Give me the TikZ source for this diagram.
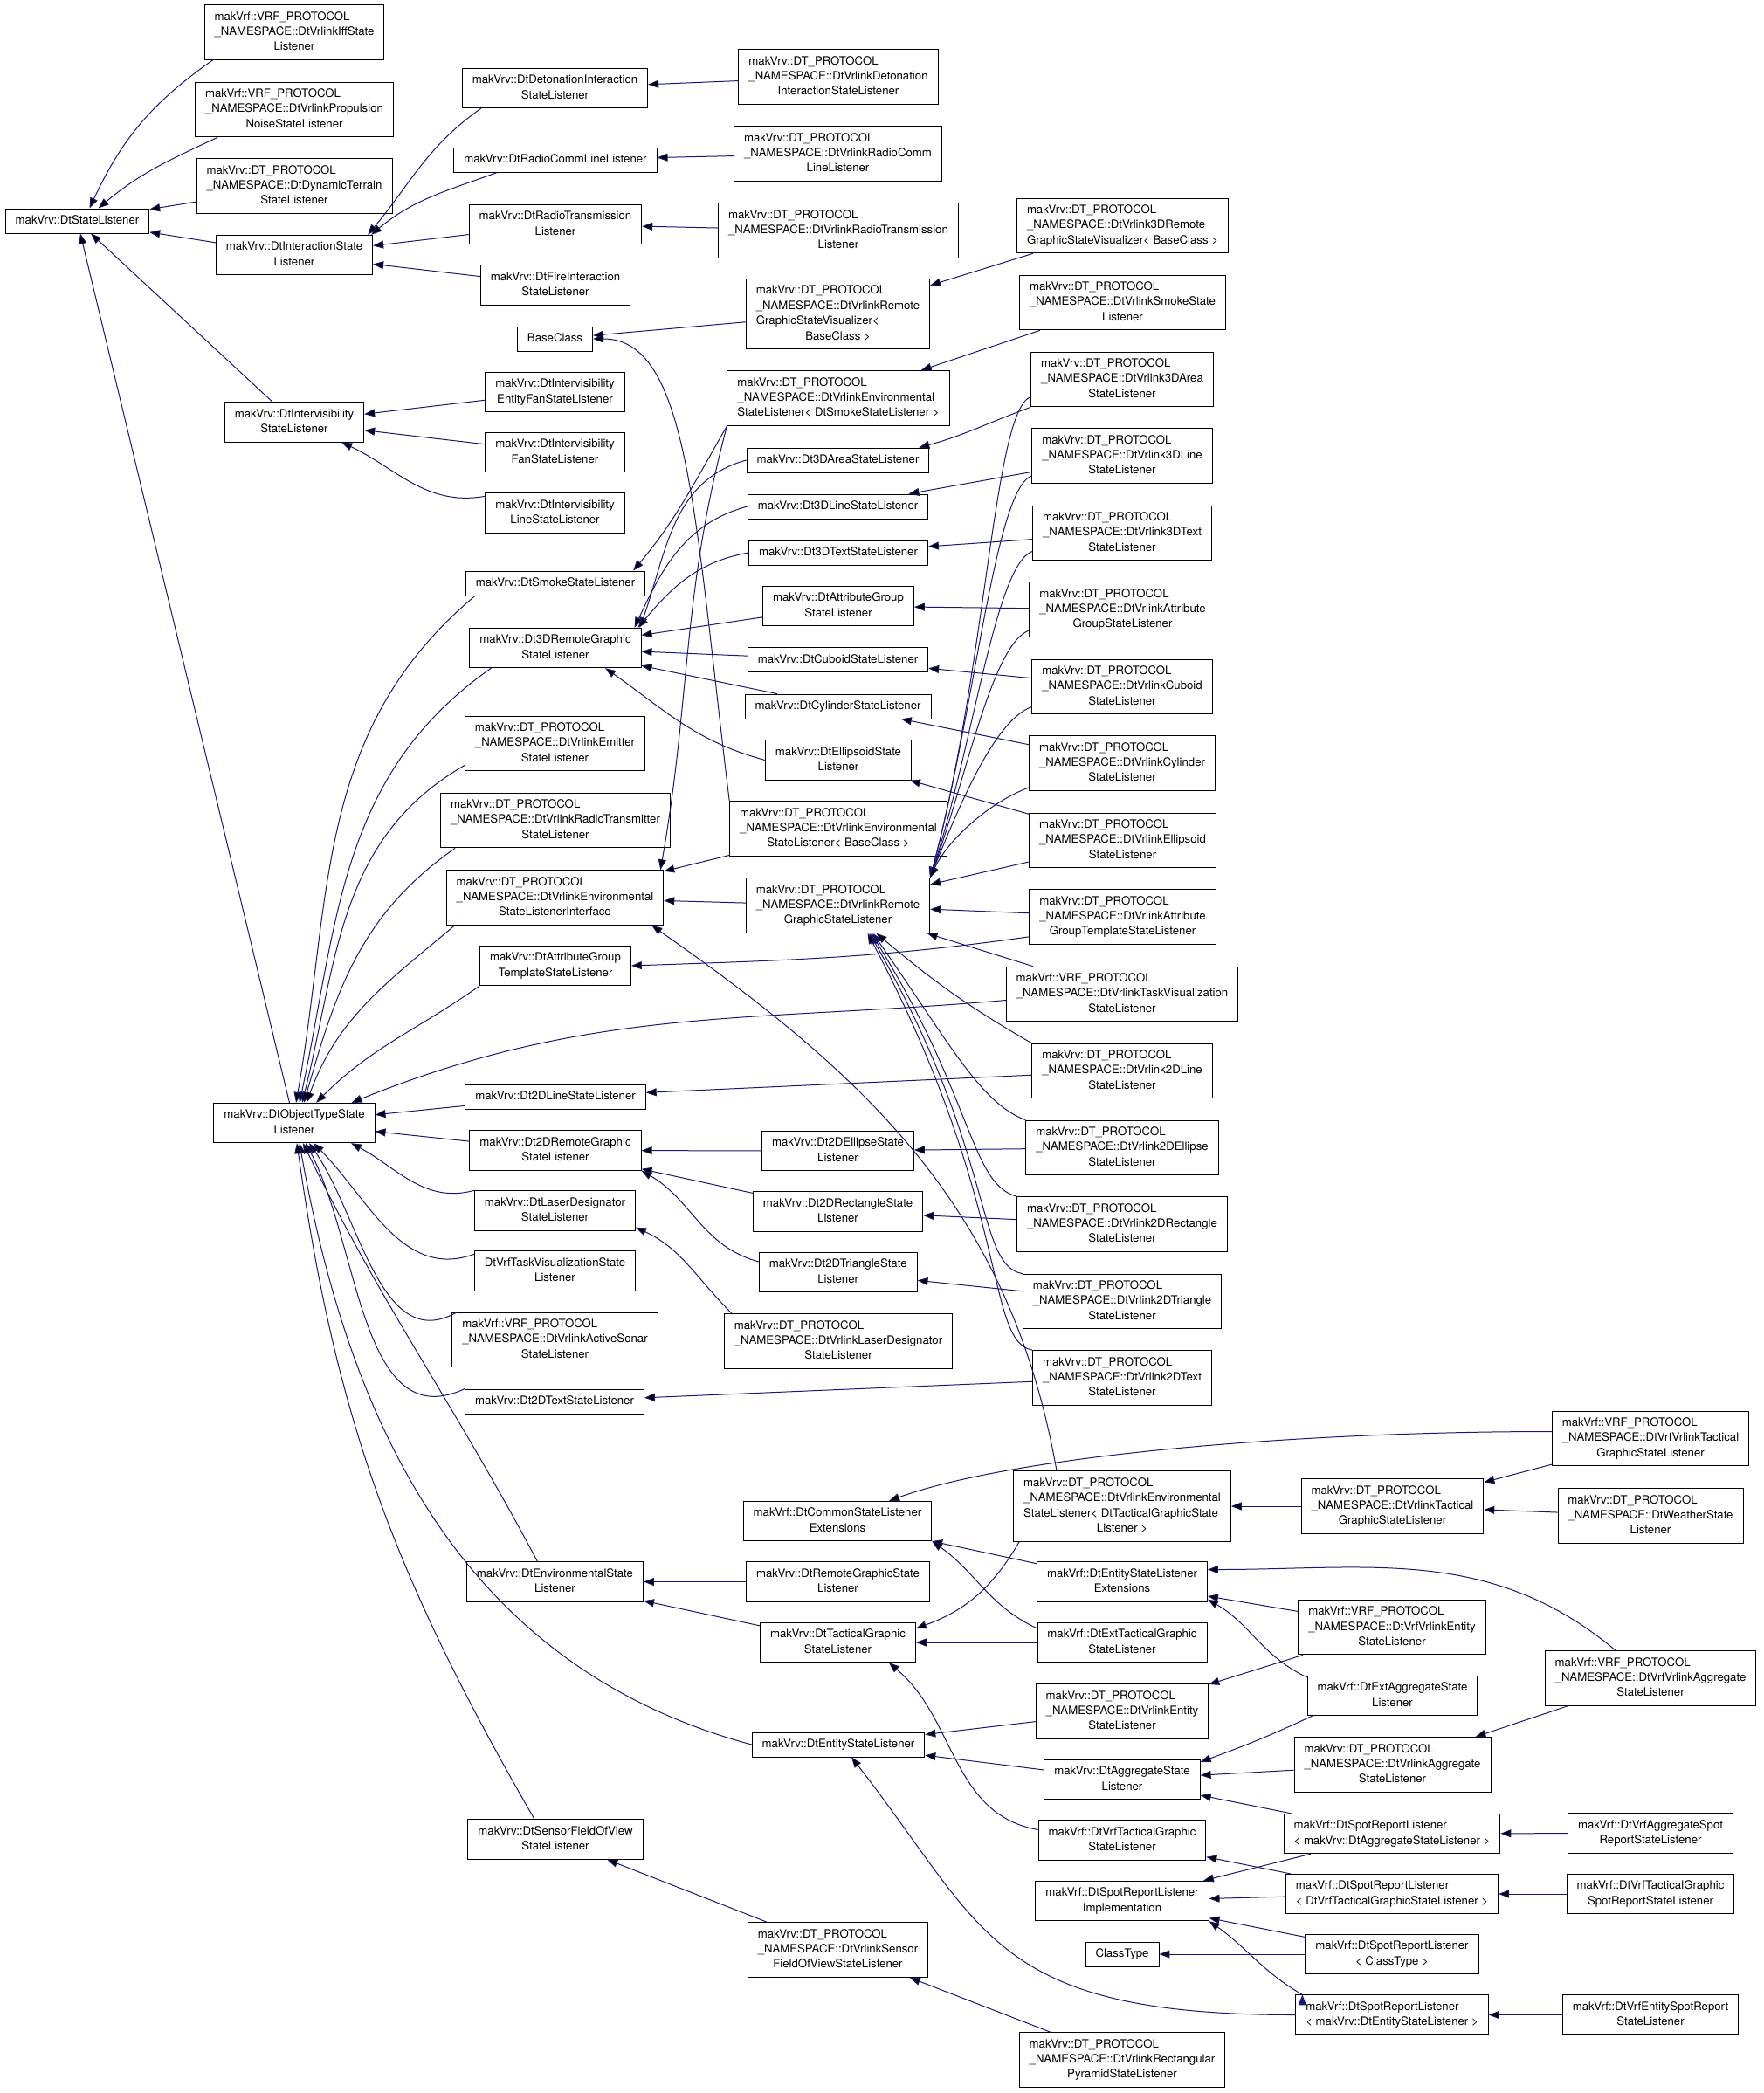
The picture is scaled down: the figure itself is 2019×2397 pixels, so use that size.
\documentclass[tikz,border=0pt]{standalone}
\usepackage{fontspec}
\setmainfont{TeX Gyre Heros}
\usetikzlibrary{arrows.meta}
\definecolor{edgeblue}{RGB}{25,25,112}
\newcommand{\cn}[2]{\begin{tabular}{@{}l@{}}#1\\\multicolumn{1}{@{}c@{}}{#2}\end{tabular}}
\tikzset{
	cls/.style={draw=black, line width=0.9pt, fill=white, inner xsep=11.5pt, inner ysep=5.3pt, font=\fontsize{13.2}{17.4}\selectfont},
	single/.style={cls, text height=12.2pt, text depth=5.2pt},
	inh/.style={draw=edgeblue, line width=1pt, -{Triangle[length=12pt,width=9pt]}},
	rise/.style={out distance=45pt, in distance=#1},
	sink/.style={out distance=55pt, in distance=#1}
}
\begin{document}
\begin{tikzpicture}[x=1pt,y=1pt]
		\useasboundingbox (0,0) rectangle (2019,-2397);
		\node[single] (state) at (88.5,-253) {makVrv::DtStateListener};
		\node[cls] (iff) at (337,-37) {\cn{makVrf::VRF\_PROTOCOL\\\_NAMESPACE::DtVrlinkIffState}{Listener}};
		\node[cls] (propnoise) at (337,-125.5) {\cn{makVrf::VRF\_PROTOCOL\\\_NAMESPACE::DtVrlinkPropulsion}{NoiseStateListener}};
		\node[cls] (dynterr) at (337,-213) {\cn{makVrv::DT\_PROTOCOL\\\_NAMESPACE::DtDynamicTerrain}{StateListener}};
		\node[cls] (interact) at (337,-292) {\cn{makVrv::DtInteractionState}{Listener}};
		\node[cls] (intervis) at (337,-483.5) {\cn{makVrv::DtIntervisibility}{StateListener}};
		\node[cls] (objtype) at (337,-1286) {\cn{makVrv::DtObjectTypeState}{Listener}};
		\node[cls] (deton) at (635.5,-101) {\cn{makVrv::DtDetonationInteraction}{StateListener}};
		\node[single] (radiocomm) at (636,-183) {makVrv::DtRadioCommLineListener};
		\node[cls] (radiotrans) at (636,-257) {\cn{makVrv::DtRadioTransmission}{Listener}};
		\node[cls] (fire) at (636,-326.5) {\cn{makVrv::DtFireInteraction}{StateListener}};
		\node[single] (baseclass) at (635.5,-388) {BaseClass};
		\node[cls] (ivefan) at (635.5,-449) {\cn{makVrv::DtIntervisibility}{EntityFanStateListener}};
		\node[cls] (ivfan) at (635.5,-518) {\cn{makVrv::DtIntervisibility}{FanStateListener}};
		\node[cls] (ivline) at (635.5,-587.5) {\cn{makVrv::DtIntervisibility}{LineStateListener}};
		\node[single] (smoke) at (636,-668) {makVrv::DtSmokeStateListener};
		\node[cls] (remote3d) at (636,-742) {\cn{makVrv::Dt3DRemoteGraphic}{StateListener}};
		\node[cls] (emitter) at (635.5,-851.5) {\cn{makVrv::DT\_PROTOCOL\\\_NAMESPACE::DtVrlinkEmitter}{StateListener}};
		\node[cls] (radiotx) at (636,-939.5) {\cn{makVrv::DT\_PROTOCOL\\\_NAMESPACE::DtVrlinkRadioTransmitter}{StateListener}};
		\node[cls] (envif) at (635.5,-1028) {\cn{makVrv::DT\_PROTOCOL\\\_NAMESPACE::DtVrlinkEnvironmental}{StateListenerInterface}};
		\node[cls] (attrtmpl) at (636,-1106) {\cn{makVrv::DtAttributeGroup}{TemplateStateListener}};
		\node[single] (line2d) at (636,-1256) {makVrv::Dt2DLineStateListener};
		\node[cls] (remote2d) at (636,-1317.5) {\cn{makVrv::Dt2DRemoteGraphic}{StateListener}};
		\node[cls] (laser) at (635.5,-1386.5) {\cn{makVrv::DtLaserDesignator}{StateListener}};
		\node[cls] (vrftask) at (635.5,-1455.5) {\cn{DtVrfTaskVisualizationState}{Listener}};
		\node[cls] (sonar) at (635.5,-1534.5) {\cn{makVrf::VRF\_PROTOCOL\\\_NAMESPACE::DtVrlinkActiveSonar}{StateListener}};
		\node[single] (text2d) at (635,-1605) {makVrv::Dt2DTextStateListener};
		\node[cls] (environ) at (635.5,-1811.5) {\cn{makVrv::DtEnvironmentalState}{Listener}};
		\node[cls] (sensor) at (636,-2106.5) {\cn{makVrv::DtSensorFieldOfView}{StateListener}};
		\node[cls] (vldeton) at (960,-88) {\cn{makVrv::DT\_PROTOCOL\\\_NAMESPACE::DtVrlinkDetonation}{InteractionStateListener}};
		\node[cls] (vlradiocomm) at (959.5,-176) {\cn{makVrv::DT\_PROTOCOL\\\_NAMESPACE::DtVrlinkRadioComm}{LineListener}};
		\node[cls] (vlradiotrans) at (960,-264) {\cn{makVrv::DT\_PROTOCOL\\\_NAMESPACE::DtVrlinkRadioTransmission}{Listener}};
		\node[cls] (vlvisual) at (959.5,-359.5) {\cn{makVrv::DT\_PROTOCOL\\\_NAMESPACE::DtVrlinkRemote\\GraphicStateVisualizer<}{BaseClass >}};
		\node[cls] (vlenvsmoke) at (960,-456) {\cn{makVrv::DT\_PROTOCOL\\\_NAMESPACE::DtVrlinkEnvironmental}{StateListener< DtSmokeStateListener >}};
		\node[single] (area3d) at (959.5,-527) {makVrv::Dt3DAreaStateListener};
		\node[single] (line3d) at (959.5,-580) {makVrv::Dt3DLineStateListener};
		\node[single] (text3d) at (960,-633) {makVrv::Dt3DTextStateListener};
		\node[cls] (attrgrp) at (960,-694) {\cn{makVrv::DtAttributeGroup}{StateListener}};
		\node[single] (cuboid) at (959.5,-755.5) {makVrv::DtCuboidStateListener};
		\node[single] (cylinder) at (959.5,-809) {makVrv::DtCylinderStateListener};
		\node[cls] (ellipsoid) at (960,-870.5) {\cn{makVrv::DtEllipsoidState}{Listener}};
		\node[cls] (vlenvbase) at (960,-949) {\cn{makVrv::DT\_PROTOCOL\\\_NAMESPACE::DtVrlinkEnvironmental}{StateListener< BaseClass >}};
		\node[cls] (vlremote) at (959.5,-1037) {\cn{makVrv::DT\_PROTOCOL\\\_NAMESPACE::DtVrlinkRemote}{GraphicStateListener}};
		\node[cls] (ellipse2d) at (959.5,-1318) {\cn{makVrv::Dt2DEllipseState}{Listener}};
		\node[cls] (rect2d) at (959.5,-1387.5) {\cn{makVrv::Dt2DRectangleState}{Listener}};
		\node[cls] (tri2d) at (959.7,-1457) {\cn{makVrv::Dt2DTriangleState}{Listener}};
		\node[cls] (vllaser) at (960,-1536) {\cn{makVrv::DT\_PROTOCOL\\\_NAMESPACE::DtVrlinkLaserDesignator}{StateListener}};
		\node[cls] (common) at (959,-1742) {\cn{makVrf::DtCommonStateListener}{Extensions}};
		\node[cls] (remotegs) at (959.5,-1811.5) {\cn{makVrv::DtRemoteGraphicState}{Listener}};
		\node[cls] (tactical) at (959.5,-1881) {\cn{makVrv::DtTacticalGraphic}{StateListener}};
		\node[single] (entity) at (960,-1998) {makVrv::DtEntityStateListener};
		\node[cls] (vlsensor) at (959.5,-2233) {\cn{makVrv::DT\_PROTOCOL\\\_NAMESPACE::DtVrlinkSensor}{FieldOfViewStateListener}};
		\node[cls] (vl3dvisual) at (1285.5,-258.5) {\cn{makVrv::DT\_PROTOCOL\\\_NAMESPACE::DtVrlink3DRemote}{GraphicStateVisualizer< BaseClass >}};
		\node[cls] (vlsmoke) at (1285.5,-346.5) {\cn{makVrv::DT\_PROTOCOL\\\_NAMESPACE::DtVrlinkSmokeState}{Listener}};
		\node[cls] (vlarea) at (1285,-434.5) {\cn{makVrv::DT\_PROTOCOL\\\_NAMESPACE::DtVrlink3DArea}{StateListener}};
		\node[cls] (vlline3d) at (1285,-522) {\cn{makVrv::DT\_PROTOCOL\\\_NAMESPACE::DtVrlink3DLine}{StateListener}};
		\node[cls] (vltext3d) at (1285,-610.5) {\cn{makVrv::DT\_PROTOCOL\\\_NAMESPACE::DtVrlink3DText}{StateListener}};
		\node[cls] (vlattr) at (1285.5,-698) {\cn{makVrv::DT\_PROTOCOL\\\_NAMESPACE::DtVrlinkAttribute}{GroupStateListener}};
		\node[cls] (vlcuboid) at (1285,-786.5) {\cn{makVrv::DT\_PROTOCOL\\\_NAMESPACE::DtVrlinkCuboid}{StateListener}};
		\node[cls] (vlcyl) at (1285,-874) {\cn{makVrv::DT\_PROTOCOL\\\_NAMESPACE::DtVrlinkCylinder}{StateListener}};
		\node[cls] (vlellipsoid) at (1285.5,-962.5) {\cn{makVrv::DT\_PROTOCOL\\\_NAMESPACE::DtVrlinkEllipsoid}{StateListener}};
		\node[cls] (vlattrtmpl) at (1285.5,-1050) {\cn{makVrv::DT\_PROTOCOL\\\_NAMESPACE::DtVrlinkAttribute}{GroupTemplateStateListener}};
		\node[cls] (vltask) at (1285,-1138.5) {\cn{makVrf::VRF\_PROTOCOL\\\_NAMESPACE::DtVrlinkTaskVisualization}{StateListener}};
		\node[cls] (vlline2d) at (1285,-1226.5) {\cn{makVrv::DT\_PROTOCOL\\\_NAMESPACE::DtVrlink2DLine}{StateListener}};
		\node[cls] (vlellipse2d) at (1285,-1314.5) {\cn{makVrv::DT\_PROTOCOL\\\_NAMESPACE::DtVrlink2DEllipse}{StateListener}};
		\node[cls] (vlrect2d) at (1285,-1402) {\cn{makVrv::DT\_PROTOCOL\\\_NAMESPACE::DtVrlink2DRectangle}{StateListener}};
		\node[cls] (vltri2d) at (1285,-1490.5) {\cn{makVrv::DT\_PROTOCOL\\\_NAMESPACE::DtVrlink2DTriangle}{StateListener}};
		\node[cls] (vltext2d) at (1285,-1578) {\cn{makVrv::DT\_PROTOCOL\\\_NAMESPACE::DtVrlink2DText}{StateListener}};
		\node[cls] (vlenvtact) at (1285,-1725) {\cn{makVrv::DT\_PROTOCOL\\\_NAMESPACE::DtVrlinkEnvironmental\\StateListener< DtTacticalGraphicState}{Listener >}};
		\node[cls] (entityext) at (1285,-1811.5) {\cn{makVrf::DtEntityStateListener}{Extensions}};
		\node[cls] (exttact) at (1285,-1881) {\cn{makVrf::DtExtTacticalGraphic}{StateListener}};
		\node[cls] (vlentity) at (1285,-1960) {\cn{makVrv::DT\_PROTOCOL\\\_NAMESPACE::DtVrlinkEntity}{StateListener}};
		\node[cls] (aggregate) at (1285,-2038) {\cn{makVrv::DtAggregateState}{Listener}};
		\node[cls] (vrftact) at (1285,-2107.5) {\cn{makVrf::DtVrfTacticalGraphic}{StateListener}};
		\node[cls] (spotimpl) at (1285,-2177) {\cn{makVrf::DtSpotReportListener}{Implementation}};
		\node[single] (classtype) at (1285,-2238) {ClassType};
		\node[cls] (vlpyramid) at (1285,-2359) {\cn{makVrv::DT\_PROTOCOL\\\_NAMESPACE::DtVrlinkRectangular}{PyramidStateListener}};
		\node[cls] (vltactical) at (1594.5,-1725) {\cn{makVrv::DT\_PROTOCOL\\\_NAMESPACE::DtVrlinkTactical}{GraphicStateListener}};
		\node[cls] (vrfentity) at (1594,-1863.5) {\cn{makVrf::VRF\_PROTOCOL\\\_NAMESPACE::DtVrfVrlinkEntity}{StateListener}};
		\node[cls] (extagg) at (1594.5,-1942) {\cn{makVrf::DtExtAggregateState}{Listener}};
		\node[cls] (vlaggregate) at (1594.5,-2021) {\cn{makVrv::DT\_PROTOCOL\\\_NAMESPACE::DtVrlinkAggregate}{StateListener}};
		\node[cls] (spotagg) at (1594,-2100) {\cn{makVrf::DtSpotReportListener}{< makVrv::DtAggregateStateListener >}};
		\node[cls] (spottact) at (1594,-2169) {\cn{makVrf::DtSpotReportListener}{< DtVrfTacticalGraphicStateListener >}};
		\node[cls] (spotclass) at (1594,-2238) {\cn{makVrf::DtSpotReportListener}{< ClassType >}};
		\node[cls] (spotentity) at (1594,-2307.5) {\cn{makVrf::DtSpotReportListener}{< makVrv::DtEntityStateListener >}};
		\node[cls] (vrfvltact) at (1890,-1647.5) {\cn{makVrf::VRF\_PROTOCOL\\\_NAMESPACE::DtVrfVrlinkTactical}{GraphicStateListener}};
		\node[cls] (weather) at (1890,-1736) {\cn{makVrv::DT\_PROTOCOL\\\_NAMESPACE::DtWeatherState}{Listener}};
		\node[cls] (vrfagg) at (1890,-1922) {\cn{makVrf::VRF\_PROTOCOL\\\_NAMESPACE::DtVrfVrlinkAggregate}{StateListener}};
		\node[cls] (vrfaggspot) at (1890,-2099.5) {\cn{makVrf::DtVrfAggregateSpot}{ReportStateListener}};
		\node[cls] (vrftactspot) at (1890,-2169) {\cn{makVrf::DtVrfTacticalGraphic}{SpotReportStateListener}};
		\node[cls] (vrfentspot) at (1890,-2307.5) {\cn{makVrf::DtVrfEntitySpotReport}{StateListener}};
		\path[inh]
		([xshift=10pt]iff.south west) edge[out=215,in=65] ([xshift=14pt]state.north)
		([xshift=26pt]propnoise.south west) edge[out=205,in=40] ([xshift=24pt]state.north)
		(dynterr) edge (state) (interact) edge (state) (intervis) edge (state) (objtype) edge (state)
		([xshift=22pt]deton.south west) edge[out=215,in=50] ([xshift=-6pt]interact.north east)
		([xshift=50pt]radiocomm.south west) edge[out=200,in=40] ([xshift=-2pt]interact.north east)
		(radiotrans) edge (interact) (fire) edge (interact)
		(ivefan) edge (intervis) (ivfan) edge (intervis)
		([yshift=-4pt]ivline.north west) edge[out=190,in=-25] ([xshift=-26pt]intervis.south east)
		(vldeton) edge (deton) (vlradiocomm) edge (radiocomm) (vlradiotrans) edge (radiotrans)
		(vlvisual) edge (baseclass) (vl3dvisual) edge (vlvisual) (vlsmoke) edge (vlenvsmoke)
		(vlenvbase.north west) edge[out=97,in=0,out distance=330pt,in distance=110pt] (baseclass.east)
		(vlenvsmoke.south west) edge[out=240,in=50] ([xshift=-14pt]smoke.north east)
		(vlenvsmoke.south west) edge[out=255,in=80] ([xshift=-4pt]envif.north east)
		(vlenvbase) edge (envif) (vlremote) edge (envif)
		([xshift=-75pt]vlenvtact.north) edge[out=100,in=-35] ([xshift=-14pt]envif.south east)
		(area3d.west) edge[out=195,in=70] ([xshift=-2pt]remote3d.north east)
		(line3d.west) edge[out=195,in=65] ([xshift=-8pt]remote3d.north east)
		(text3d.west) edge[out=190,in=50] ([xshift=-4pt]remote3d.north east)
		(attrgrp) edge (remote3d) (cuboid) edge (remote3d) (cylinder) edge (remote3d)
		(ellipsoid.west) edge[out=165,in=-35] ([xshift=57pt]remote3d.south)
		(vlarea.south west) edge[out=200,in=15] ([xshift=-12pt]area3d.north east)
		(vlline3d) edge (line3d) (vltext3d) edge (text3d) (vlattr) edge (attrgrp)
		(vlcuboid) edge (cuboid) (vlcyl) edge (cylinder) (vlellipsoid) edge (ellipsoid)
		([yshift=9pt]vlattrtmpl.south west) edge[out=188,in=2] (attrtmpl.east)
		([yshift=-20pt]vlarea.west) edge[out=200,in=75,rise=250pt] (vlremote.north east)
		([yshift=-23pt]vlline3d.west) edge[out=200,in=75,rise=200pt] (vlremote.north east)
		([yshift=-21pt]vltext3d.west) edge[out=200,in=72,rise=160pt] (vlremote.north east)
		([yshift=-24pt]vlattr.west) edge[out=200,in=70,rise=120pt] (vlremote.north east)
		([yshift=-23pt]vlcuboid.west) edge[out=200,in=68,rise=90pt] (vlremote.north east)
		([yshift=-28pt]vlcyl.west) edge[out=200,in=65,rise=50pt] (vlremote.north east)
		(vlellipsoid) edge (vlremote) (vlattrtmpl) edge (vlremote) (vltask) edge (vlremote)
		(vlline2d.north west) edge[out=150,in=-40] ([xshift=44pt]vlremote.south)
		(vlellipse2d.north west) edge[out=160,in=-55,sink=150pt] ([xshift=40pt]vlremote.south)
		(vlrect2d.north west) edge[out=165,in=-58,sink=220pt] ([xshift=38pt]vlremote.south)
		(vltri2d.north west) edge[out=170,in=-60,sink=290pt] ([xshift=36pt]vlremote.south)
		(vltext2d.north west) edge[out=170,in=-62,sink=350pt] ([xshift=34pt]vlremote.south)
		([xshift=11pt]smoke.south west) edge[out=220,in=80] ([xshift=2pt]objtype.north)
		([xshift=25pt]remote3d.south west) edge[out=215,in=78] ([xshift=6pt]objtype.north)
		([yshift=-25pt]emitter.west) edge[out=210,in=76] ([xshift=9pt]objtype.north)
		([xshift=17pt]radiotx.south west) edge[out=215,in=74] ([xshift=11pt]objtype.north)
		([xshift=10pt]envif.south west) edge[out=220,in=70] ([xshift=14pt]objtype.north)
		(attrtmpl.south west) edge[out=215,in=45] ([xshift=25pt]objtype.north)
		([yshift=-7pt]vltask.west) edge[out=185,in=22] ([xshift=-27pt]objtype.north east)
		(line2d) edge (objtype) (remote2d) edge (objtype)
		(laser.north west) edge[out=195,in=-28] ([xshift=65pt]objtype.south)
		([yshift=-4pt]vrftask.north west) edge[out=200,in=-45] ([xshift=22pt]objtype.south)
		([xshift=6pt]sonar.north west) edge[out=210,in=-55] ([xshift=17pt]objtype.south)
		(text2d.north west) edge[out=205,in=-62] ([xshift=13pt]objtype.south)
		([xshift=-20pt]environ.north) edge[out=118,in=-64] ([xshift=10pt]objtype.south)
		(entity.west) edge[out=165,in=-80] ([xshift=6pt]objtype.south)
		([xshift=-24pt]sensor.north) edge[out=120,in=-82] ([xshift=3pt]objtype.south)
		(vlline2d) edge (line2d) (ellipse2d) edge (remote2d) (rect2d) edge (remote2d)
		([yshift=12pt]tri2d.west) edge[out=165,in=-30] (remote2d.south east)
		(vlellipse2d) edge (ellipse2d) (vlrect2d) edge (rect2d) (vltri2d) edge (tri2d) (vltext2d) edge (text2d)
		([xshift=9pt]vllaser.north west) edge[out=135,in=-25] ([yshift=4pt]laser.south east)
		(remotegs) edge (environ) (tactical) edge (environ)
		([xshift=7pt]vlenvtact.south west) edge[out=240,in=20] ([yshift=16pt]tactical.east)
		(exttact) edge (tactical)
		([yshift=12pt]vrftact.west) edge[out=170,in=-40] ([xshift=-31pt]tactical.south east)
		(vltactical) edge (vlenvtact) (vrfvltact) edge (vltactical) (weather) edge (vltactical)
		([yshift=8pt]vrfvltact.west) edge[out=180,in=20,in distance=150pt] ([xshift=59pt]common.north)
		(entityext) edge (common)
		([yshift=-7pt]exttact.north west) edge[out=155,in=-35] (common.south east)
		([xshift=-40pt]vrfagg.north) edge[out=140,in=0] ([yshift=14pt]entityext.east)
		(vrfentity) edge (entityext)
		([yshift=-2pt]extagg.north west) edge[out=155,in=-30] ([yshift=3pt]entityext.south east)
		(vrfentity) edge (vlentity) (vlentity) edge (entity) (aggregate) edge (entity)
		(spotentity.west) edge[out=180,in=-52,out distance=350pt,in distance=250pt] ([xshift=15pt]entity.south)
		([xshift=6pt]extagg.south west) edge[out=205,in=20] ([yshift=-3pt]aggregate.north east)
		(vlaggregate) edge (aggregate) (spotagg) edge (aggregate)
		(vrfagg) edge (vlaggregate) (spottact) edge (vrftact)
		(spotagg) edge (spotimpl) (spottact) edge (spotimpl) (spotclass) edge (spotimpl)
		([xshift=8pt]spotentity.north west) edge[out=150,in=-35] (spotimpl.south east)
		(spotclass) edge (classtype)
		(vrfaggspot) edge (spotagg) (vrftactspot) edge (spottact) (vrfentspot) edge (spotentity)
		(vlsensor) edge (sensor) (vlpyramid) edge (vlsensor);
\end{tikzpicture}
\end{document}
